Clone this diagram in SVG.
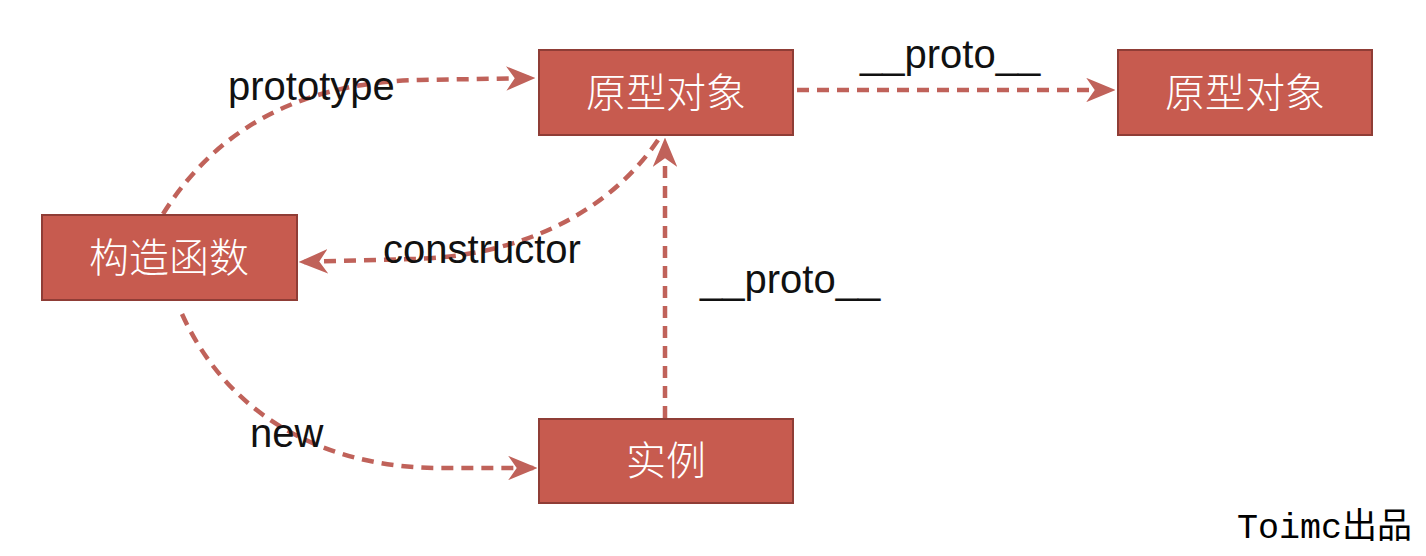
<svg xmlns="http://www.w3.org/2000/svg" width="1426" height="556" viewBox="0 0 1426 556">
<defs>
<style>
.node rect{fill:#c75b4f;stroke:#8f3d36;stroke-width:2}
.node text{fill:#fff;font-family:"Noto Sans CJK SC","Noto Sans",sans-serif;font-weight:300;font-size:40px;text-anchor:middle;dominant-baseline:central}
.conn path{fill:none;stroke:#c0625a;stroke-width:4.5;stroke-dasharray:12 8;marker-end:url(#arr)}
.lbl{font-family:"Liberation Sans",Arial,sans-serif;font-size:40px;fill:#111}
</style>
<marker id="arr" viewBox="0 0 12 10" refX="11" refY="5" markerWidth="6.5" markerHeight="5.5" markerUnits="strokeWidth" orient="auto">
<path d="M0,0 L12,5 L0,10 L3.5,5 z" fill="#c0625a"/>
</marker>
</defs>
<rect width="1426" height="556" fill="#fff"/>
<g class="conn">
<path d="M163,214 C225,115 320,82 420,80 L533,78"/>
<path d="M797,90 L1113,90"/>
<path d="M658,140 C600,225 500,258 410,259 L301,262"/>
<path d="M665,418 L665,140"/>
<path d="M182,314 C230,420 330,468 440,468 L535,468"/>
</g>
<g id="n-proto1" class="node"><rect x="539" y="50" width="254" height="85"/><text x="666" y="90">原型对象</text></g>
<g id="n-proto2" class="node"><rect x="1118" y="50" width="254" height="85"/><text x="1245" y="90">原型对象</text></g>
<g id="n-ctor" class="node"><rect x="42" y="215" width="255" height="85"/><text x="169" y="255">构造函数</text></g>
<g id="n-inst" class="node"><rect x="539" y="419" width="254" height="84"/><text x="666" y="458">实例</text></g>
<g id="labels">
<text class="lbl" x="228" y="100">prototype</text>
<text class="lbl" x="860" y="68">__proto__</text>
<text class="lbl" x="383" y="263">constructor</text>
<text class="lbl" x="700" y="293">__proto__</text>
<text class="lbl" x="250" y="447">new</text>
<text x="1237" y="538" font-family="'Liberation Mono','Noto Sans CJK SC',monospace" font-size="35" fill="#000" textLength="175">Toimc出品</text>
</g>
</svg>
